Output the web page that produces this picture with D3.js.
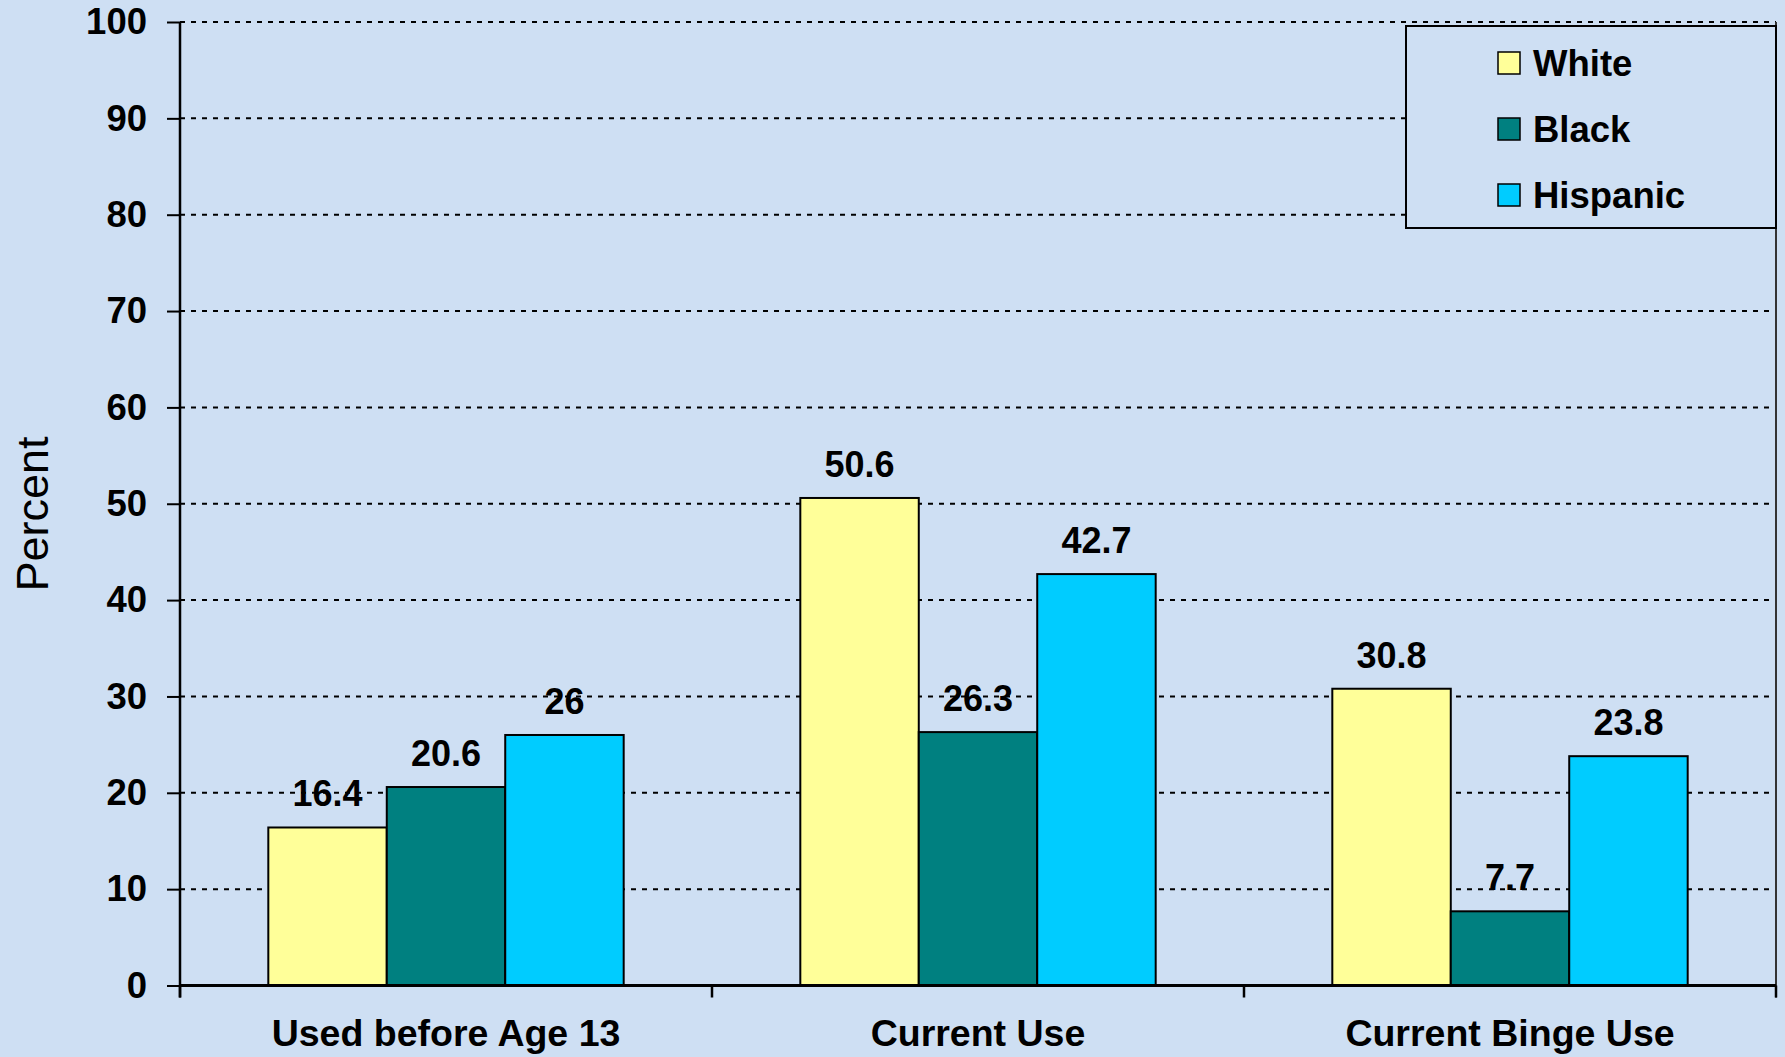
<!DOCTYPE html>
<html>
<head>
<meta charset="utf-8">
<script src="https://cdn.jsdelivr.net/npm/d3@7"></script>
<style>
  html, body { margin: 0; padding: 0; background: #CEDFF3; }
  svg { display: block; }
  text { font-family: "Liberation Sans", Arial, sans-serif; fill: #000; }
</style>
</head>
<body>
<svg id="chart" width="1785" height="1057"></svg>
<script>
const categories = ["Used before Age 13", "Current Use", "Current Binge Use"];
const seriesNames = ["White", "Black", "Hispanic"];
const whiteValues = [16.4, 50.6, 30.8];
const blackValues = [20.6, 26.3, 7.7];
const hispanicValues = [26, 42.7, 23.8];
const seriesColors = ["#FFFF99", "#008080", "#00CCFF"];
const yTicks = [0, 10, 20, 30, 40, 50, 60, 70, 80, 90, 100];
const valueLabels = [["16.4", "50.6", "30.8"], ["20.6", "26.3", "7.7"], ["26", "42.7", "23.8"]];

const seriesValues = [whiteValues, blackValues, hispanicValues];

const W = 1785, H = 1057;
const plotLeft = 180, plotRight = 1776, plotTop = 22, plotBottom = 985.5;
const bg = "#CEDFF3";

const svg = d3.select("#chart");
svg.append("rect").attr("width", W).attr("height", H).attr("fill", bg);

const x = d3.scaleBand().domain(categories).range([plotLeft, plotRight]).padding(0);
const step = x.bandwidth();
const outer = step * 0.166;
const xs = d3.scaleBand().domain(seriesNames).range([outer, step - outer]).padding(0);
const y = d3.scaleLinear().domain([0, 100]).range([plotBottom, plotTop]);

// gridlines
svg.append("g").selectAll("line").data(yTicks.filter(d => d > 0)).join("line")
  .attr("x1", plotLeft).attr("x2", plotRight)
  .attr("y1", d => y(d)).attr("y2", d => y(d))
  .attr("stroke", "#000").attr("stroke-width", 2).attr("stroke-dasharray", "5,6");

// right border
svg.append("line").attr("x1", plotRight).attr("x2", plotRight)
  .attr("y1", y(100)).attr("y2", plotBottom + 12)
  .attr("stroke", "#333").attr("stroke-width", 2);

// bars
const rows = [];
categories.forEach((c, i) => {
  seriesNames.forEach((s, j) => {
    rows.push({c, s, j, v: seriesValues[j][i], label: valueLabels[j][i]});
  });
});

svg.append("g").selectAll("rect").data(rows).join("rect")
  .attr("x", d => x(d.c) + xs(d.s))
  .attr("width", xs.bandwidth())
  .attr("y", d => y(d.v))
  .attr("height", d => y(0) - y(d.v))
  .attr("fill", d => seriesColors[d.j])
  .attr("stroke", "#000").attr("stroke-width", 2);

// value labels
svg.append("g").selectAll("text").data(rows).join("text")
  .attr("x", d => x(d.c) + xs(d.s) + xs.bandwidth() / 2)
  .attr("y", d => y(d.v) - 21)
  .attr("text-anchor", "middle")
  .attr("font-size", 36).attr("font-weight", "bold")
  .text(d => d.label);

// y axis
const yAxis = d3.axisLeft(y).tickValues(yTicks).tickSize(13).tickPadding(20).tickFormat(d3.format("d"));
const gy = svg.append("g").attr("transform", `translate(${plotLeft},0)`).call(yAxis);
gy.select(".domain").remove();
gy.selectAll(".tick line").attr("stroke", "#000").attr("stroke-width", 2);
gy.selectAll(".tick text").attr("font-size", 36.5).attr("font-weight", "bold")
  .attr("font-family", "Liberation Sans, Arial, sans-serif").attr("fill", "#000");
svg.append("line").attr("x1", plotLeft).attr("x2", plotLeft).attr("y1", plotTop).attr("y2", plotBottom + 12)
  .attr("stroke", "#000").attr("stroke-width", 2.5);

// x axis
svg.append("line").attr("x1", plotLeft).attr("x2", plotRight).attr("y1", plotBottom).attr("y2", plotBottom)
  .attr("stroke", "#000").attr("stroke-width", 3);
const boundaries = categories.map(c => x(c)).concat([plotRight]);
svg.append("g").selectAll("line").data(boundaries).join("line")
  .attr("x1", d => d).attr("x2", d => d).attr("y1", plotBottom).attr("y2", plotBottom + 12)
  .attr("stroke", "#000").attr("stroke-width", 2.5);
svg.append("g").selectAll("text").data(categories).join("text")
  .attr("x", d => x(d) + step / 2)
  .attr("y", 1046)
  .attr("text-anchor", "middle")
  .attr("font-size", 37.5).attr("font-weight", "bold")
  .text(d => d);

// y title
svg.append("text")
  .attr("transform", `translate(48,514) rotate(-90)`)
  .attr("text-anchor", "middle")
  .attr("font-size", 45)
  .text("Percent");

// legend
const lg = svg.append("g");
lg.append("rect").attr("x", 1406).attr("y", 26).attr("width", 370).attr("height", 202)
  .attr("fill", bg).attr("stroke", "#000").attr("stroke-width", 2);
const items = lg.selectAll("g.item").data(seriesNames).join("g").attr("class", "item")
  .attr("transform", (d, i) => `translate(1498, ${63 + i * 66})`);
items.append("rect").attr("x", 0).attr("y", -11).attr("width", 22).attr("height", 22)
  .attr("fill", (d, i) => seriesColors[i]).attr("stroke", "#000").attr("stroke-width", 1.5);
items.append("text").attr("x", 35).attr("y", 0).attr("dy", "0.35em")
  .attr("font-size", 36.5).attr("font-weight", "bold").text(d => d);
</script>
</body>
</html>
